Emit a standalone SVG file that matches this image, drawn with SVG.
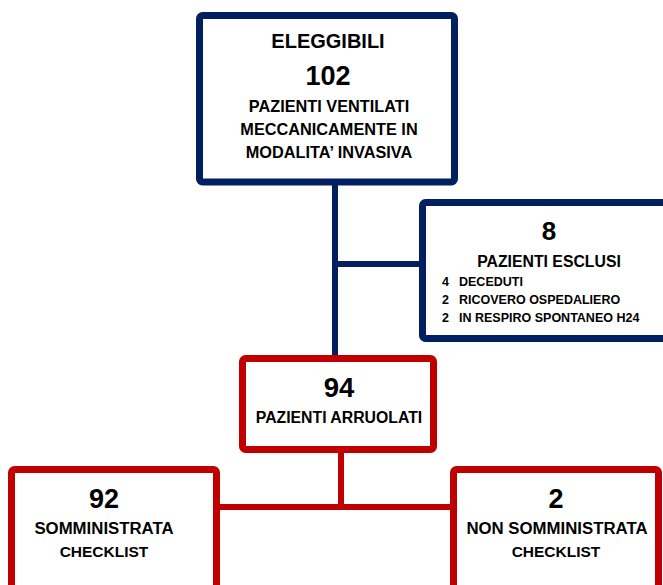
<svg xmlns="http://www.w3.org/2000/svg" width="663" height="585" viewBox="0 0 663 585">
<style>
.blue{fill:#fff;stroke:#002060;stroke-width:7}
.red{fill:#fff;stroke:#C00000;stroke-width:7}
.lb{stroke:#002060;stroke-width:6;fill:none}
.lr{stroke:#C00000;stroke-width:6;fill:none}
text{font-family:"Liberation Sans",Arial,sans-serif;font-weight:bold;fill:#000}
.c{text-anchor:middle}
.s{font-size:12.5px}
</style>
<rect width="663" height="585" fill="#fff"/>
<g id="connectors">
<line class="lb" x1="335" y1="183" x2="335" y2="356"/>
<line class="lb" x1="335" y1="264" x2="420" y2="264"/>
<line class="lr" x1="341" y1="451" x2="341" y2="507"/>
<line class="lr" x1="218" y1="507" x2="452" y2="507"/>
</g>
<g id="eleggibili">
<rect class="blue" x="199.5" y="15.5" width="255" height="166.5" rx="3"/>
<text class="c" x="328" y="48" font-size="20">ELEGGIBILI</text>
<text class="c" x="328" y="85" font-size="27">102</text>
<text class="c" x="329" y="112" font-size="16.3">PAZIENTI VENTILATI</text>
<text class="c" x="329" y="135" font-size="16.3">MECCANICAMENTE IN</text>
<text class="c" x="329" y="158" font-size="16.3">MODALITA’ INVASIVA</text>
</g>
<g id="esclusi">
<rect class="blue" x="422.5" y="202.5" width="260" height="136" rx="3"/>
<text class="c" x="549" y="240" font-size="26">8</text>
<text class="c" x="549" y="267" font-size="15.8">PAZIENTI ESCLUSI</text>
<text class="s" x="442" y="286">4</text>
<text class="s" x="459" y="286">DECEDUTI</text>
<text class="s" x="442" y="304">2</text>
<text class="s" x="459" y="304">RICOVERO OSPEDALIERO</text>
<text class="s" x="442" y="322">2</text>
<text class="s" x="459" y="322">IN RESPIRO SPONTANEO H24</text>
</g>
<g id="arruolati">
<rect class="red" x="242.5" y="358.5" width="191" height="91" rx="3"/>
<text class="c" x="339" y="397" font-size="27.5">94</text>
<text class="c" x="339" y="423" font-size="15.8">PAZIENTI ARRUOLATI</text>
</g>
<g id="somministrata">
<rect class="red" x="11.5" y="469.5" width="205" height="130" rx="3"/>
<text class="c" x="104" y="508" font-size="27">92</text>
<text class="c" x="104" y="534" font-size="16.8">SOMMINISTRATA</text>
<text class="c" x="104" y="557" font-size="15.5">CHECKLIST</text>
</g>
<g id="non-somministrata">
<rect class="red" x="453.5" y="469.5" width="205" height="130" rx="3"/>
<text class="c" x="556" y="508" font-size="27">2</text>
<text class="c" x="557" y="534" font-size="16.8">NON SOMMINISTRATA</text>
<text class="c" x="556" y="557" font-size="15.5">CHECKLIST</text>
</g>
</svg>
